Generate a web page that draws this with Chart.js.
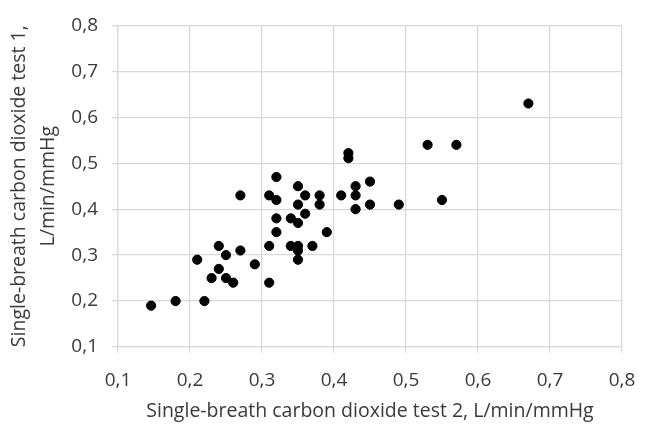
<!DOCTYPE html>
<html>
<head>
<meta charset="utf-8">
<script src="https://cdn.jsdelivr.net/npm/chart.js@4/dist/chart.umd.min.js"></script>
<style>
html,body{margin:0;padding:0;background:#fff;}
#wrap{width:667px;height:425px;position:relative;}
</style>
</head>
<body>
<div id="wrap"><canvas id="c" width="667" height="425"></canvas></div>
<script>
// Test 2 (x) and Test 1 (y), L/min/mmHg
const test2 = [0.146,0.18,0.22,0.21,0.24,0.25,0.24,0.23,0.25,0.26,0.27,0.27,0.29,0.31,0.31,0.31,0.32,0.32,0.32,0.32,0.34,0.34,0.35,0.35,0.35,0.35,0.35,0.35,0.36,0.36,0.37,0.38,0.38,0.39,0.41,0.42,0.42,0.43,0.43,0.43,0.45,0.45,0.49,0.53,0.57,0.55,0.67];
const test1 = [0.19,0.20,0.20,0.29,0.32,0.30,0.27,0.25,0.25,0.24,0.43,0.31,0.28,0.43,0.32,0.24,0.47,0.42,0.38,0.35,0.38,0.32,0.45,0.41,0.37,0.32,0.31,0.29,0.43,0.39,0.32,0.43,0.41,0.35,0.43,0.522,0.511,0.45,0.43,0.40,0.46,0.41,0.41,0.54,0.54,0.42,0.63];
const tickValues = [0.1,0.2,0.3,0.4,0.5,0.6,0.7,0.8];
const xTitle = 'Single-breath carbon dioxide test 2, L/min/mmHg';
const yTitle = ['Single-breath carbon dioxide test 1,', 'L/min/mmHg'];

const points = test2.map((v,i)=>({x:v,y:test1[i]}));
const fmt = v => v.toFixed(1).replace('.', ',');
const FONT = 'Open Sans';
const txt = '#3a3a3a';
const grid = '#d9d9d9';

new Chart(document.getElementById('c'), {
  type: 'scatter',
  data: { datasets: [{ data: points, backgroundColor:'#000', borderColor:'#000', pointRadius:4.6, pointHoverRadius:4.6 }] },
  options: {
    responsive:false, animation:false,
    layout:{ padding:{ top:15, right:45, left:0, bottom:0 } },
    plugins:{ legend:{display:false}, tooltip:{enabled:false} },
    scales:{
      x:{
        type:'linear', min:0.1, max:0.8,
        afterBuildTicks: s => { s.ticks = tickValues.map(v=>({value:v})); },
        afterFit: s => { s.height = 78; },
        ticks:{ callback: v => fmt(v), color:txt, font:{family:FONT,size:19}, padding:16, maxRotation:0 },
        grid:{ color:grid, lineWidth:1.3, tickLength:6 },
        border:{ color:grid, width:1.3 },
        title:{ display:true, text:xTitle, color:txt, font:{family:FONT,size:19.5}, padding:{top:0,bottom:2} }
      },
      y:{
        type:'linear', min:0.1, max:0.8,
        afterBuildTicks: s => { s.ticks = tickValues.map(v=>({value:v})); },
        afterFit: s => { s.width = 118; },
        ticks:{ callback: v => fmt(v), color:txt, font:{family:FONT,size:19}, padding:14 },
        grid:{ color:grid, lineWidth:1.3, tickLength:6 },
        border:{ color:grid, width:1.3 },
        title:{ display:true, text:yTitle, color:txt, font:{family:FONT,size:19.5, lineHeight:1.5}, padding:{top:5,bottom:0} }
      }
    }
  }
});
</script>
</body>
</html>
